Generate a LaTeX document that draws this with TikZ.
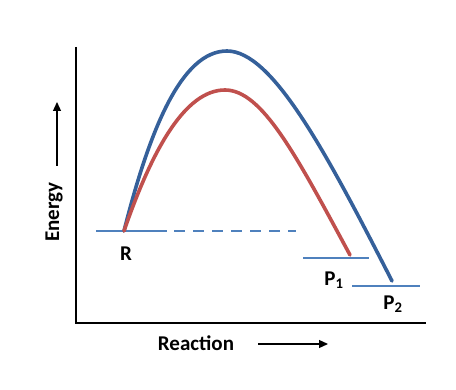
\documentclass[tikz,border=0pt]{standalone}
\usepackage{fontspec}
\setmainfont{Carlito}
\usetikzlibrary{arrows.meta}
\definecolor{bluecurve}{HTML}{35609A}
\definecolor{redcurve}{HTML}{C0504D}
\definecolor{levelblue}{HTML}{4F81BD}
\tikzset{
  axis/.style={line width=1.6pt, black},
  level/.style={line width=2.4pt, levelblue},
  curveb/.style={line width=3.6pt, bluecurve, line cap=round},
  curver/.style={line width=3.6pt, redcurve, line cap=round},
  lbl/.style={font=\bfseries\fontsize{21}{24}\selectfont, inner sep=0pt},
  dirarrow/.style={line width=1.3pt, -{Triangle[length=9pt,width=8pt]}}
}
\begin{document}
\begin{tikzpicture}[x=1pt,y=-1pt]
\useasboundingbox (0,0) rectangle (456,390);
% axes
\coordinate (o) at (76,323);
\coordinate (ytop) at (76,47);
\coordinate (xend) at (426,323);
\draw[axis] (ytop) -- (o) -- (xend);
% levels
\coordinate (r1) at (96,231);
\coordinate (r2) at (167,231);
\coordinate (r3) at (174,231);
\coordinate (r4) at (296,231);
\draw[level] (r1) -- (r2);
\draw[level, dash pattern=on 11pt off 8pt] (r3) -- (r4);
\coordinate (p11) at (303,258);
\coordinate (p12) at (369,258);
\draw[level] (p11) -- (p12);
\coordinate (p21) at (352,286);
\coordinate (p22) at (420,286);
\draw[level] (p21) -- (p22);
% curves
\coordinate (rs) at (124,231);
\coordinate (bpk) at (227,51);
\coordinate (bend) at (392,281);
\coordinate (rpk) at (225,90);
\coordinate (rend) at (350,255);
\draw[curveb] (rs) .. controls (150,128) and (182,51) .. (bpk) .. controls (272,51) and (325,150) .. (bend);
\draw[curver] (rs) .. controls (152,150) and (185,90) .. (rpk) .. controls (262,90) and (296,155) .. (rend);
% labels
\node[lbl] (R) at (126,254) {R};
\node[lbl] (P1) at (334,280) {P$_{\mathbf{1}}$};
\node[lbl] (P2) at (393,304) {P$_{\mathbf{2}}$};
\node[lbl, rotate=90] (E) at (54,212) {Energy};
\node[lbl] (Rx) at (196,343) {Reaction};
\coordinate (ea1) at (57,166);
\coordinate (ea2) at (57,102);
\draw[dirarrow] (ea1) -- (ea2);
\coordinate (xa1) at (258,344);
\coordinate (xa2) at (328,344);
\draw[dirarrow] (xa1) -- (xa2);
\end{tikzpicture}
\end{document}
